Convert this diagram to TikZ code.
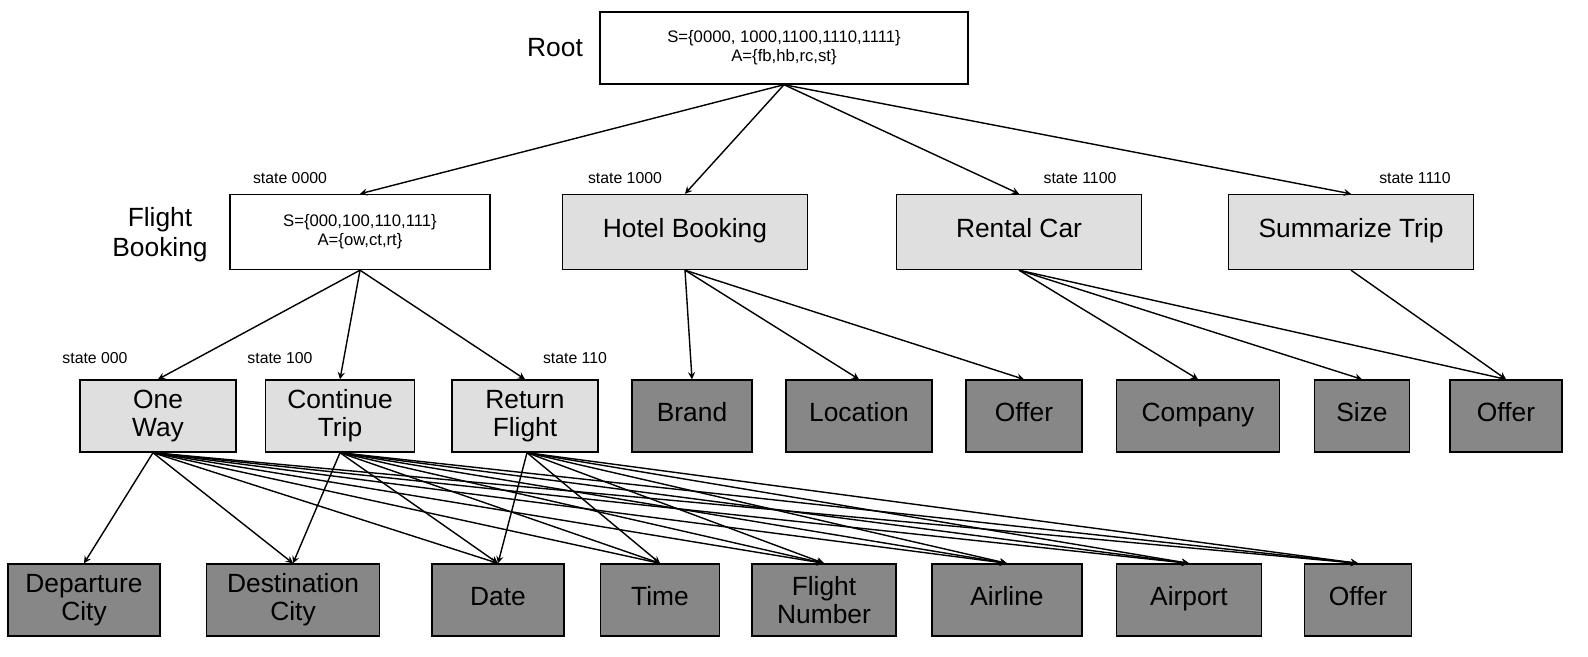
\documentclass[tikz,border=0pt]{standalone}
\usepackage{fontspec}
\setmainfont{Liberation Sans}
\begin{document}
\begin{tikzpicture}[x=0.02cm,y=-0.02cm,
 box/.style={draw,thick,minimum height=1.44cm,inner sep=1pt,align=center,font=\fontsize{15}{16}\selectfont},
 wbox/.style={box,fill=white,font=\fontsize{9.5}{11}\selectfont},
 lg/.style={box,fill=gray!25},
 dg/.style={box,fill=black!47,text height=1.6ex,text depth=0.45ex},
 st/.style={font=\fontsize{9}{10}\selectfont},
 lab/.style={font=\fontsize{15}{17}\selectfont,align=center},
 arr/.style={->,>=stealth,thick}]
\useasboundingbox (0,0) rectangle (1588,656);
\node[wbox,minimum width=7.36cm] (root) at (784,48) {S=\{0000, 1000,1100,1110,1111\}\\A=\{fb,hb,rc,st\}};
\node[lab] (rl) at (555,48) {Root};
\node[wbox,minimum width=5.2cm,minimum height=1.5cm] (fb) at (360,232) {S=\{000,100,110,111\}\\A=\{ow,ct,rt\}};
\node[lab] (fbl) at (160,235) {Flight\\Booking};
\node[lg,minimum width=4.9cm,minimum height=1.5cm,text height=1.6ex,text depth=0.45ex] (hb) at (685,232) {Hotel Booking};
\node[lg,minimum width=4.9cm,minimum height=1.5cm,text height=1.6ex,text depth=0.45ex] (rc) at (1019,232) {Rental Car};
\node[lg,minimum width=4.9cm,minimum height=1.5cm,text height=1.6ex,text depth=0.45ex] (sm) at (1351,232) {Summarize Trip};
\node[st] (s1) at (290,178) {state 0000};
\node[st] (s2) at (625,178) {state 1000};
\node[st] (s3) at (1080,178) {state 1100};
\node[st] (s4) at (1415,178) {state 1110};
\node[lg,minimum width=3.12cm] (ow) at (158,416) {One\\Way};
\node[lg,minimum width=2.98cm] (ct) at (340,416) {Continue\\Trip};
\node[lg,minimum width=2.92cm] (rf) at (525,416) {Return\\Flight};
\node[st] (s5) at (95,358) {state 000};
\node[st] (s6) at (280,358) {state 100};
\node[st] (s7) at (575,358) {state 110};
\node[dg,minimum width=2.4cm] (br) at (692,416) {Brand};
\node[dg,minimum width=2.92cm] (lo) at (859,416) {Location};
\node[dg,minimum width=2.32cm] (of1) at (1024,416) {Offer};
\node[dg,minimum width=3.26cm] (co) at (1198,416) {Company};
\node[dg,minimum width=1.9cm] (sz) at (1362,416) {Size};
\node[dg,minimum width=2.24cm] (of2) at (1506,416) {Offer};
\node[dg,minimum width=3.04cm,text height=,text depth=] (dc) at (84,600) {Departure\\City};
\node[dg,minimum width=3.46cm,text height=,text depth=] (dsc) at (293,600) {Destination\\City};
\node[dg,minimum width=2.64cm] (da) at (498,600) {Date};
\node[dg,minimum width=2.38cm] (ti) at (660,600) {Time};
\node[dg,minimum width=2.88cm,text height=,text depth=] (fn) at (824,600) {Flight\\Number};
\node[dg,minimum width=3.0cm] (al) at (1007,600) {Airline};
\node[dg,minimum width=2.9cm] (ap) at (1189,600) {Airport};
\node[dg,minimum width=2.14cm] (of3) at (1358,600) {Offer};
\foreach \t in {fb,hb,rc,sm} \draw[arr] (root.south) -- (\t.north);
\foreach \t in {ow,ct,rf} \draw[arr] (fb.south) -- (\t.north);
\foreach \t in {br,lo,of1} \draw[arr] (hb.south) -- (\t.north);
\foreach \t in {co,sz,of2} \draw[arr] (rc.south) -- (\t.north);
\draw[arr] (sm.south) -- (of2.north);
\foreach \t in {dc,dsc,da,ti,fn,al,ap,of3} \draw[arr] ([xshift=-0.1cm]ow.south) -- (\t.north);
\foreach \t in {dsc,da,ti,fn,al,ap,of3} \draw[arr] (ct.south) -- (\t.north);
\foreach \t in {da,ti,fn,al,ap,of3} \draw[arr] ([xshift=0.04cm]rf.south) -- (\t.north);
\end{tikzpicture}
\end{document}
